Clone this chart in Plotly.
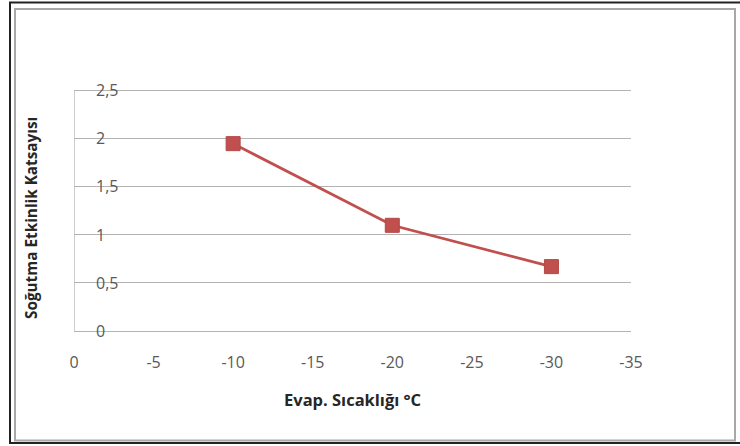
import plotly.graph_objects as go

# Data
evap_temp = [-10, -20, -30]
cop = [1.95, 1.10, 0.67]
x_ticks = [0, -5, -10, -15, -20, -25, -30, -35]
y_ticks = [0, 0.5, 1, 1.5, 2, 2.5]
y_tick_labels = ["0", "0,5", "1", "1,5", "2", "2,5"]
x_title = "Evap. Sıcaklığı °C"
y_title = "Soğutma Etkinlik Katsayısı"

W, H = 740, 446
L, R, T, B = 74, 109, 86, 115
PW, PH = W - L - R, H - T - B

def px(xp):
    return (xp - L) / PW

def py(yp):
    return (H - B - yp) / PH

RED = "#C0504D"
FONT = "Open Sans"

fig = go.Figure()
fig.add_trace(go.Scatter(
    x=evap_temp, y=cop, mode="lines+markers",
    line=dict(color=RED, width=2.75),
    marker=dict(symbol="square", size=14, color=RED, line=dict(color="#B54744", width=1)),
    showlegend=False, cliponaxis=False,
))

fig.update_layout(
    width=W, height=H,
    margin=dict(l=L, r=R, t=T, b=B, pad=0),
    paper_bgcolor="white", plot_bgcolor="white",
    font=dict(family=FONT, color="#595959"),
    xaxis=dict(
        range=[0, -35], tickvals=x_ticks, ticktext=[str(v) for v in x_ticks],
        showgrid=False, zeroline=False, showline=False,
        ticks="", ticklabelstandoff=20, ticklabeloverflow="allow",
        tickfont=dict(size=16, color="#595959", family=FONT),
    ),
    yaxis=dict(
        range=[0, 2.55], tickvals=y_ticks, ticktext=y_tick_labels,
        showgrid=True, gridcolor="#B3B3B3", gridwidth=1.3,
        zeroline=True, zerolinecolor="#B3B3B3", zerolinewidth=1.3,
        showline=False,
        ticks="", ticklabelposition="inside", ticklabelstandoff=19,
        ticklabeloverflow="allow",
        tickfont=dict(size=16, color="#595959", family=FONT),
    ),
    annotations=[
        dict(text="<b>" + y_title + "</b>", xref="paper", yref="paper",
             x=px(31), y=py(218), textangle=-90, showarrow=False,
             font=dict(size=15.3, color="#262626", family=FONT),
             xanchor="center", yanchor="middle"),
        dict(text="<b>" + x_title + "</b>", xref="paper", yref="paper",
             x=px(352), y=py(399), showarrow=False,
             font=dict(size=16.5, color="#262626", family=FONT),
             xanchor="center", yanchor="middle"),
    ],
    shapes=[
        # vertical value axis line from 0 up to the top tick
        dict(type="line", xref="x", yref="y", x0=0, x1=0, y0=y_ticks[0], y1=y_ticks[-1],
             line=dict(color="#B3B3B3", width=1.3), layer="below"),
        dict(type="rect", xref="paper", yref="paper",
             x0=px(10), x1=px(760), y0=py(443), y1=py(2.5),
             line=dict(color="#222222", width=2), layer="above"),
        dict(type="rect", xref="paper", yref="paper",
             x0=px(15), x1=px(735), y0=py(440.5), y1=py(9),
             line=dict(color="#A8A8A8", width=2), layer="above"),
    ],
)

fig.write_html("out.html")
